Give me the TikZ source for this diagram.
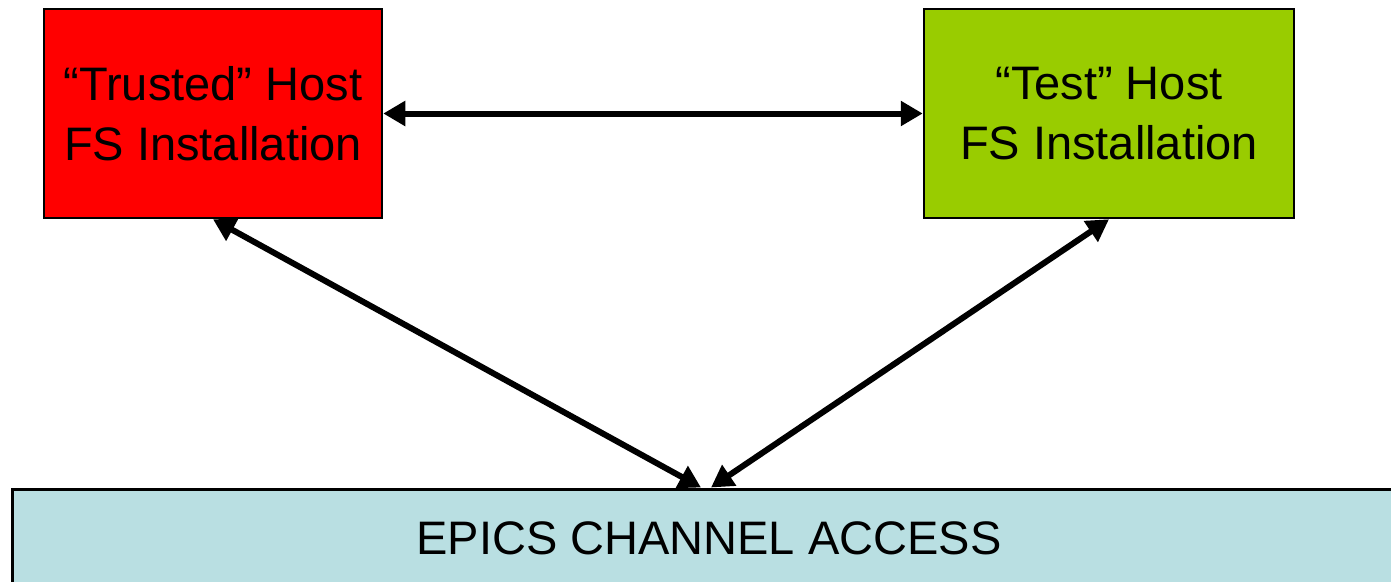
\documentclass[tikz,border=0pt]{standalone}
\usepackage{fontspec}
\setmainfont{Liberation Sans}
\usetikzlibrary{arrows.meta,calc}
\definecolor{trustedred}{HTML}{FF0000}
\definecolor{testgreen}{HTML}{99CC00}
\definecolor{epicsblue}{HTML}{B9DFE2}
\tikzset{
  hostbox/.style={draw=black, line width=2.5pt, align=center, inner sep=0pt,
    minimum height=209pt, font=\fontsize{47}{60}\selectfont},
  busbox/.style={draw=black, line width=3pt, inner sep=0pt,
    minimum width=1398pt, minimum height=99pt, fill=epicsblue,
    font=\fontsize{47}{56}\selectfont},
  link/.style={line width=6pt, {Triangle[length=22pt,width=24pt]}-{Triangle[length=22pt,width=24pt]}}
}
\begin{document}
\begin{tikzpicture}[x=1pt,y=1pt]
\useasboundingbox (0,0) rectangle (1391,-581);
\clip (0,0) rectangle (1391,-581);
\fill[white] (0,0) rectangle (1391,-581);
\node[hostbox, fill=trustedred, minimum width=338pt] (trusted) at (213,-113.5)
  {“Trusted” Host\\FS Installation};
\node[hostbox, fill=testgreen, minimum width=370pt] (test) at (1109,-113.5)
  {“Test” Host\\FS Installation};
\node[busbox] (epics) at (711,-538.5) {};
\node[font=\fontsize{47}{56}\selectfont, inner sep=0pt] (epicslabel) at (709,-538.5) {EPICS CHANNEL ACCESS};
\draw[link] (trusted.east) -- (test.west);
\draw[link] (trusted.south) -- ($(epics.north)+(-10,0)$);
\draw[link] (test.south) -- (epics.north);
\end{tikzpicture}
\end{document}
